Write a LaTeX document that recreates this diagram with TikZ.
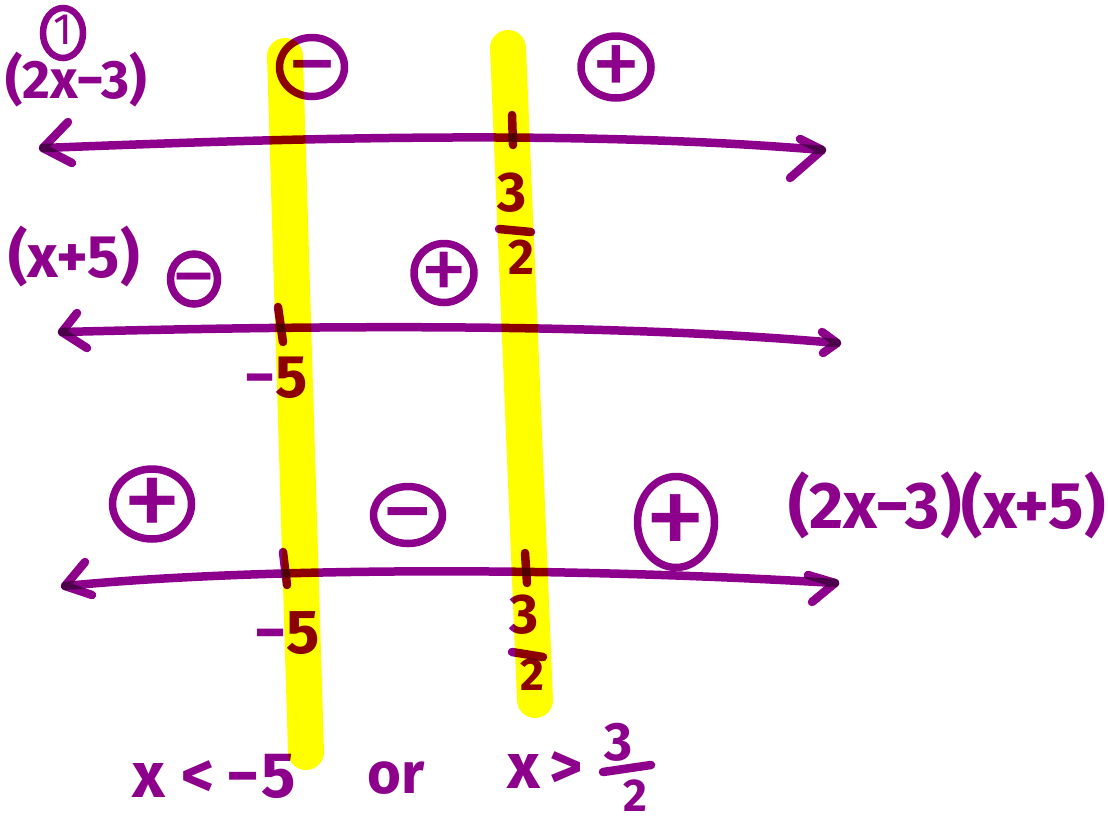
\documentclass[tikz,border=0pt]{standalone}
\usepackage{fontspec}
\setmainfont{Fira Sans}
\usetikzlibrary{shapes.geometric}
\definecolor{ink}{RGB}{140,0,140}
\definecolor{hl}{RGB}{255,255,0}
\newcommand{\signglyph}[1]{\smash{\raisebox{-0.3em}{\makebox[0pt]{#1}}}}
\tikzset{
  hlstrip/.style={draw=hl, line width=36pt, line cap=round},
  numline/.style={draw=ink, line width=8.5pt, line cap=round, line join=round},
  tickmark/.style={draw=ink, line width=8.5pt, line cap=round},
  sign/.style={ellipse, draw=ink, line width=7.5pt, inner sep=0pt, text=ink,
    font=\fontsize{#1}{#1}\selectfont\mdseries},
  sign/.default=100,
  lbl/.style={text=ink, inner sep=0pt, font=\fontsize{#1}{#1}\selectfont\bfseries},
  lbl/.default=50,
}
\begin{document}
\begin{tikzpicture}[x=1pt,y=-1pt]
\useasboundingbox (0,0) rectangle (1108,823);
% highlighter strips
\coordinate (Y1t) at (285,56); \coordinate (Y1b) at (306,752);
\coordinate (Y2t) at (508,48); \coordinate (Y2b) at (535,700);
\draw[hlstrip] (Y1t) -- (Y1b);
\draw[hlstrip] (Y2t) -- (Y2b);
\begin{scope}[blend mode=multiply]
% ---------- line 1 : (2x-3)
\coordinate (L1l) at (43,148); \coordinate (L1r) at (822,150);
\coordinate (A1lu) at (68,122); \coordinate (A1ld) at (72,163);
\coordinate (A1ru) at (800,139); \coordinate (A1rd) at (790,178);
\draw[numline] (L1l) .. controls (250,140) and (560,128) .. (L1r);
\draw[numline] (A1lu) -- (L1l) -- (A1ld);
\draw[numline] (A1ru) -- (L1r) -- (A1rd);
\coordinate (T1a) at (512,115); \coordinate (T1b) at (513,145);
\draw[tickmark] (T1a) -- (T1b);
\node[lbl=56] (f1n) at (512,193) {3};
\coordinate (f1a) at (499,229); \coordinate (f1b) at (531,232);
\draw[tickmark] (f1a) -- (f1b);
\node[lbl=50] (f1d) at (521,257) {2};
\node[lbl=54] (lab1) at (76,80) {(2x−3)};
\node[sign=44, line width=6.5pt, minimum width=40pt, minimum height=50pt] (c1) at (63,33) {\signglyph{\raisebox{0.05em}{1}}};
\node[sign, minimum width=65pt, minimum height=59pt] (s1m) at (312,67) {\signglyph{−}};
\node[sign, minimum width=70pt, minimum height=62pt] (s1p) at (616,67) {\signglyph{+}};
% ---------- line 2 : (x+5)
\coordinate (L2l) at (62,332); \coordinate (L2r) at (837,343);
\coordinate (A2lu) at (77,313); \coordinate (A2ld) at (87,348);
\coordinate (A2ru) at (822,332); \coordinate (A2rd) at (823,353);
\draw[numline] (L2l) .. controls (300,326) and (600,322) .. (L2r);
\draw[numline] (A2lu) -- (L2l) -- (A2ld);
\draw[numline] (A2ru) -- (L2r) -- (A2rd);
\coordinate (T2a) at (278,307); \coordinate (T2b) at (283,342);
\draw[tickmark] (T2a) -- (T2b);
\node[lbl=60] (m2) at (276,378) {−5};
\node[lbl=60] (lab2) at (74,256) {(x+5)};
\node[sign=90, minimum width=47pt, minimum height=50pt] (s2m) at (194,279) {\signglyph{−}};
\node[sign=95, minimum width=60pt, minimum height=59pt] (s2p) at (444,273) {\signglyph{+}};
% ---------- line 3 : product
\coordinate (L3l) at (65,586); \coordinate (L3r) at (835,583);
\coordinate (A3lu) at (85,562); \coordinate (A3ld) at (92,595);
\coordinate (A3ru) at (808,575); \coordinate (A3rd) at (812,602);
\draw[numline] (L3l) .. controls (250,568) and (550,566) .. (L3r);
\draw[numline] (A3lu) -- (L3l) -- (A3ld);
\draw[numline] (A3ru) -- (L3r) -- (A3rd);
\coordinate (T3a) at (283,552); \coordinate (T3b) at (287,585);
\coordinate (T3c) at (525,553); \coordinate (T3d) at (527,583);
\draw[tickmark] (T3a) -- (T3b);
\draw[tickmark] (T3c) -- (T3d);
\node[lbl=62] (m3) at (287,633) {−5};
\node[lbl=56] (f3n) at (524,615) {3};
\coordinate (f3a) at (512,652); \coordinate (f3b) at (543,657);
\draw[tickmark] (f3a) -- (f3b);
\node[lbl=46] (f3d) at (532,675) {2};
\node[sign=120, minimum width=79pt, minimum height=70pt] (s3p1) at (152,504) {\signglyph{+}};
\node[sign=105, minimum width=69pt, minimum height=57pt] (s3m) at (408,515) {\signglyph{−}};
\node[sign=125, minimum width=77pt, minimum height=91pt] (s3p2) at (676,522) {\signglyph{+}};
\node[lbl=66] (lab3) at (947,505) {(2x−3)(x+5)};
% ---------- answer
\node[lbl=64] (ans1) at (214,776) {x\hspace{16pt}<\hspace{12pt}−\hspace{2pt}5};
\node[lbl=58] (ansor) at (396,778) {or};
\node[lbl=64] (ans2) at (545,770) {x\hspace{10pt}>};
\node[lbl=54] (f4n) at (619,742) {3};
\coordinate (f4a) at (603,772); \coordinate (f4b) at (651,765);
\draw[tickmark] (f4a) -- (f4b);
\node[lbl=46] (f4d) at (635,796) {2};
\end{scope}
\end{tikzpicture}
\end{document}
